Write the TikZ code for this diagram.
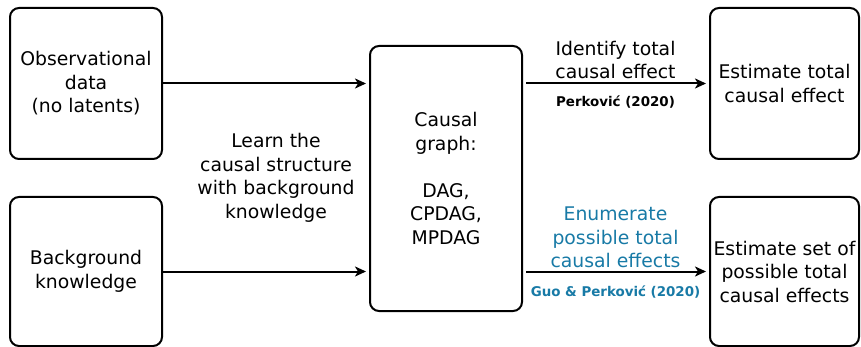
\documentclass[tikz,border=0pt]{standalone}
\usepackage{fontspec}
\setmainfont{DejaVu Sans}
\usetikzlibrary{arrows.meta}
\definecolor{refblue}{RGB}{24,122,166}
\tikzset{
  box/.style={draw, line width=2pt, rounded corners=9pt, align=center,
    inner sep=0pt, font=\fontsize{18.8}{23.5}\selectfont},
  lbl/.style={align=center, inner sep=0pt, font=\fontsize{18.8}{23.5}\selectfont},
  cite/.style={inner sep=0pt, font=\bfseries\fontsize{13.4}{15}\selectfont},
  flow/.style={line width=2pt, -{Stealth[length=11pt,width=10pt,inset=3pt]}, shorten >=3pt}
}
\begin{document}
\begin{tikzpicture}[x=1pt,y=-1pt]
\useasboundingbox (0,0) rectangle (861,347);
% input boxes
\node[box, minimum width=152pt, minimum height=151pt] (obs) at (86,83.5)
  {Observational\\data\\(no latents)};
\node[box, minimum width=152pt, minimum height=149pt] (bk) at (86,271.5)
  {Background\\knowledge};
% central graph box
\node[box, minimum width=152pt, minimum height=265pt] (cg) at (446,178.5)
  {Causal\\graph:\\[23.5pt]DAG,\\CPDAG,\\MPDAG};
% output boxes
\node[box, minimum width=149pt, minimum height=151pt] (est) at (784.5,83.5)
  {Estimate total\\causal effect};
\node[box, minimum width=149pt, minimum height=149pt] (set) at (784.5,271.5)
  {Estimate set of\\possible total\\causal effects};
% connectors
\draw[flow] (obs.east) -- (obs.east -| cg.west);
\draw[flow] (bk.east) -- (bk.east -| cg.west);
\coordinate (c1) at ([xshift=3pt]cg.east |- est.west);
\coordinate (c2) at ([xshift=3pt]cg.east |- set.west);
\draw[flow] (c1) -- (est.west);
\draw[flow] (c2) -- (set.west);
% labels
\node[lbl] (learn) at (276,178) {Learn the\\causal structure\\with background\\knowledge};
\node[lbl, anchor=south] (ident) at (615.5,79) {Identify total\\causal effect};
\node[cite] (p20) at (615.5,102) {Perković (2020)};
\node[lbl, anchor=south, text=refblue] (enum) at (615.5,268) {Enumerate\\possible total\\causal effects};
\node[cite, text=refblue] (gp20) at (615.5,292) {Guo \& Perković (2020)};
\end{tikzpicture}
\end{document}
